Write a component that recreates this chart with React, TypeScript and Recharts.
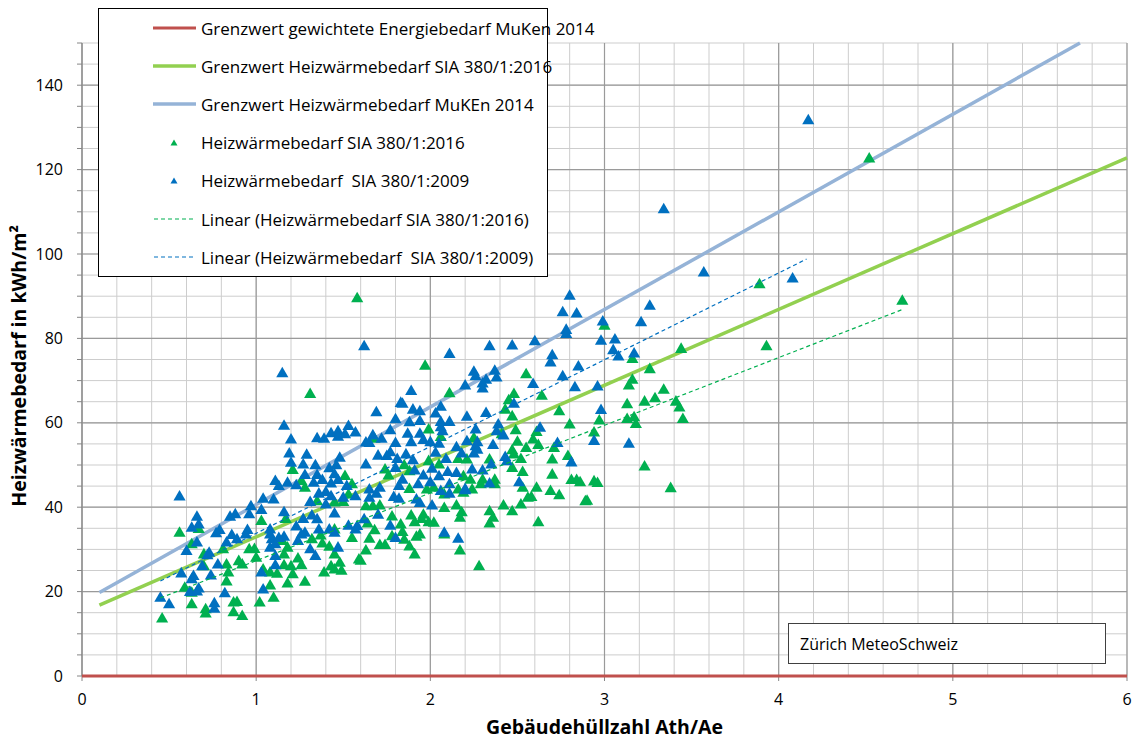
import React from 'react';
import { ScatterChart, Scatter, XAxis, YAxis, ZAxis, CartesianGrid, Label } from 'recharts';

const FONT = "'Open Sans', sans-serif";

const xTicks = [0, 1, 2, 3, 4, 5, 6];
const xMinorTicks = [0, 0.2, 0.4, 0.6, 0.8, 1, 1.2, 1.4, 1.6, 1.8, 2, 2.2, 2.4, 2.6, 2.8, 3, 3.2, 3.4, 3.6, 3.8, 4, 4.2, 4.4, 4.6, 4.8, 5, 5.2, 5.4, 5.6, 5.8, 6];
const yTicks = [0, 5, 10, 15, 20, 25, 30, 35, 40, 45, 50, 55, 60, 65, 70, 75, 80, 85, 90, 95, 100, 105, 110, 115, 120, 125, 130, 135, 140, 145, 150];
const yMajorTicks = [0, 20, 40, 60, 80, 100, 120, 140];
const yLabelTicks = [0, 20, 40, 60, 80, 100, 120, 140];

// limit lines [Ath/Ae, kWh/m2]
const grenzGewichtet: number[][] = [[0, 0], [6, 0]];
const grenzSia2016: number[][] = [[0.1, 16.8], [6, 122.8]];
const grenzMuken2014: number[][] = [[0.1, 19.8], [5.73, 150]];

// trend lines
const linear2016: number[][] = [[0.45, 18.5], [4.72, 87.0]];
const linear2009: number[][] = [[0.45, 22.5], [4.16, 98.8]];

// Heizwärmebedarf SIA 380/1:2016
const hwb2016: number[][] = [
  [1.21, 48.7], [1.26, 46.1], [1.28, 44.5], [1.51, 47.3], [1.55, 45.3], [1.53, 42.9], [1.5, 41.1], [1.35, 41.3],
  [1.45, 41.0], [1.03, 36.6], [1.17, 37.1], [0.56, 33.8], [0.63, 31.1], [0.67, 34.7], [0.81, 29.9], [0.7, 28.7],
  [0.7, 25.9], [0.83, 26.3], [0.9, 27.1], [0.92, 26.3], [0.84, 24.4], [0.83, 22.3], [0.59, 20.8], [0.63, 19.6],
  [0.63, 16.9], [0.71, 15.7], [0.71, 14.7], [0.87, 17.3], [0.89, 17.4], [0.87, 15.0], [0.92, 14.1], [0.46, 13.5],
  [1.02, 17.3], [1.1, 18.4], [0.96, 29.9], [0.99, 30.0], [1.0, 27.9], [1.04, 25.1], [1.08, 24.4], [1.12, 24.1],
  [1.08, 21.3], [1.16, 26.1], [1.2, 25.9], [1.21, 24.0], [1.18, 21.8], [1.28, 22.2], [1.26, 26.1], [1.24, 27.7],
  [1.16, 28.7], [1.18, 30.3], [1.15, 31.9], [1.32, 32.3], [1.37, 33.2], [1.38, 31.3], [1.42, 30.5], [1.45, 28.7],
  [1.39, 24.4], [1.43, 25.9], [1.45, 25.1], [1.48, 26.7], [1.49, 24.8], [1.45, 34.6], [1.55, 32.6], [1.59, 27.5],
  [2.45, 65.2], [2.43, 63.0], [2.47, 61.4], [2.74, 62.6], [2.8, 59.5], [1.99, 58.3], [2.06, 56.5], [2.49, 58.1],
  [2.61, 57.7], [2.59, 55.9], [2.5, 55.4], [2.25, 56.3], [2.62, 54.6], [2.71, 53.9], [2.47, 53.4], [2.55, 53.9],
  [2.48, 52.4], [2.52, 51.3], [2.34, 51.2], [2.7, 51.2], [2.79, 52.0], [1.68, 56.1], [1.99, 50.8], [2.05, 50.0],
  [2.16, 51.3], [2.21, 51.2], [1.74, 48.8], [1.85, 49.8], [1.76, 47.4], [1.88, 48.4], [2.19, 47.2], [2.23, 46.4],
  [2.3, 46.4], [2.37, 46.4], [2.47, 49.2], [2.53, 48.2], [2.7, 47.6], [2.81, 46.3], [2.84, 46.3], [2.86, 45.8],
  [1.88, 44.2], [1.98, 44.1], [2.02, 44.5], [2.08, 42.9], [2.16, 44.1], [2.19, 43.3], [2.24, 44.1], [2.29, 45.3],
  [2.37, 45.3], [2.53, 44.5], [2.61, 44.5], [2.69, 43.7], [2.74, 42.7], [2.56, 42.1], [2.58, 42.3], [2.89, 41.3],
  [1.63, 40.1], [1.67, 40.1], [1.71, 40.3], [2.08, 39.7], [2.15, 40.3], [2.42, 40.3], [2.47, 38.9], [2.52, 40.5],
  [2.34, 38.9], [2.36, 37.4], [2.17, 37.4], [2.18, 38.7], [1.78, 37.7], [1.89, 37.9], [1.96, 38.1], [1.95, 37.1],
  [1.91, 36.3], [1.99, 36.3], [2.02, 36.2], [1.83, 35.8], [1.64, 36.0], [1.68, 34.4], [1.65, 32.4], [1.71, 30.9],
  [1.74, 30.9], [1.78, 33.0], [1.84, 34.0], [1.85, 32.2], [1.88, 30.6], [1.92, 32.9], [1.94, 33.4], [1.91, 28.7],
  [1.63, 29.6], [1.6, 27.2], [2.08, 33.4], [2.17, 29.6], [2.34, 36.0], [2.62, 36.3], [2.28, 25.9],
  [1.58, 89.4], [1.31, 66.7], [1.97, 73.4], [2.11, 66.9],
  [3.0, 82.9], [3.16, 75.0], [3.44, 77.4], [3.26, 72.6], [2.55, 71.4], [3.16, 70.1], [3.14, 68.7], [2.48, 66.7],
  [2.64, 66.3], [3.34, 67.7], [3.23, 64.9], [3.29, 65.7], [3.13, 64.3], [3.41, 64.9], [3.43, 63.5], [3.45, 60.8],
  [3.17, 61.2], [3.13, 60.8], [3.18, 59.6], [2.97, 60.4], [2.94, 57.6], [2.41, 57.2],
  [3.23, 49.5], [2.94, 46.0], [2.96, 45.6], [3.38, 44.4], [2.9, 41.4],
  [4.52, 122.5], [3.89, 92.7], [4.71, 88.8], [3.93, 78.0],
];

// Heizwärmebedarf SIA 380/1:2009
const hwb2009: number[][] = [
  [1.2, 55.9], [1.35, 56.2], [1.39, 56.1], [1.43, 57.4], [1.47, 57.9], [1.47, 56.6], [1.51, 57.2], [1.57, 57.6],
  [1.63, 55.2], [1.19, 52.6], [1.29, 52.3], [1.2, 50.4], [1.27, 50.0], [1.34, 49.8], [1.42, 49.1], [1.46, 49.8],
  [1.48, 51.6], [1.11, 46.1], [1.13, 44.9], [1.18, 45.7], [1.23, 45.1], [1.28, 47.5], [1.33, 45.7], [1.35, 47.5],
  [1.38, 46.3], [1.43, 45.5], [1.47, 46.3], [1.45, 47.7], [1.52, 44.9], [1.57, 42.5], [1.36, 43.1], [1.4, 43.5],
  [1.43, 42.5], [0.56, 42.4], [1.04, 41.9], [1.1, 41.7], [0.97, 40.1], [1.03, 39.2], [0.66, 37.6], [0.85, 37.6],
  [0.88, 38.2], [0.96, 38.2], [0.63, 35.0], [0.67, 35.8], [0.77, 33.7], [0.79, 34.5], [0.86, 33.3], [0.89, 32.3],
  [0.83, 31.5], [0.94, 33.4], [0.95, 34.5], [0.66, 31.5], [0.6, 29.5], [0.73, 29.1], [0.72, 28.5], [0.78, 26.3],
  [0.69, 25.9], [0.57, 24.2], [0.64, 23.6], [0.63, 22.8], [0.74, 23.7], [0.62, 19.8], [0.66, 19.9], [0.67, 20.6],
  [0.82, 19.5], [0.45, 18.4], [0.5, 16.9], [0.76, 17.1], [0.76, 15.8], [1.04, 20.4], [1.08, 34.6], [1.08, 33.4],
  [1.09, 32.3], [1.11, 31.1], [1.13, 32.6], [1.16, 32.9], [1.11, 28.3], [1.08, 30.3], [1.11, 26.1], [1.03, 24.4],
  [1.16, 38.7], [1.23, 35.3], [1.26, 33.4], [1.28, 33.8], [1.24, 31.9], [1.27, 37.1], [1.31, 41.1], [1.32, 37.9],
  [1.35, 37.0], [1.36, 34.6], [1.31, 29.9], [1.34, 28.3], [1.4, 40.5], [1.42, 34.6], [1.45, 33.8], [1.45, 38.4],
  [1.5, 42.1], [1.53, 35.5], [1.57, 34.6], [1.58, 35.4], [1.47, 30.3], [1.53, 59.1],
  [1.84, 64.4], [1.69, 62.4], [1.9, 63.0], [1.94, 62.6], [2.03, 62.1], [2.06, 63.7], [1.8, 60.7], [1.88, 60.0],
  [1.94, 60.3], [2.06, 60.1], [2.11, 60.1], [2.21, 61.3], [2.32, 62.2], [2.39, 59.5], [2.48, 64.4], [1.77, 58.1],
  [1.87, 57.3], [1.94, 57.3], [2.07, 57.9], [2.26, 58.3], [2.38, 57.9], [2.42, 56.9], [2.63, 58.7], [1.67, 56.9],
  [1.72, 56.1], [1.65, 55.1], [1.8, 55.1], [1.89, 55.3], [1.96, 55.8], [2.0, 55.3], [2.05, 54.9], [2.15, 54.1],
  [2.21, 55.5], [2.27, 55.3], [2.26, 54.3], [2.36, 54.6], [1.77, 52.9], [1.75, 52.0], [1.7, 52.1], [1.81, 51.3],
  [1.86, 52.4], [1.9, 51.0], [2.03, 52.8], [2.09, 51.3], [2.18, 52.6], [2.25, 52.6], [2.27, 53.5], [2.43, 51.8],
  [2.44, 50.8], [2.81, 50.5], [2.73, 55.1], [1.63, 50.0], [1.8, 49.2], [1.91, 48.6], [1.84, 46.4], [2.01, 49.0],
  [1.96, 47.4], [2.1, 48.2], [2.15, 48.0], [2.24, 48.8], [2.3, 48.6], [2.35, 50.0], [2.05, 47.2], [2.0, 45.8],
  [2.11, 45.3], [1.93, 45.3], [1.82, 44.9], [2.2, 44.2], [2.34, 45.5], [2.51, 45.8], [1.65, 44.1], [1.71, 44.5],
  [1.69, 43.1], [1.65, 42.1], [1.79, 42.3], [1.82, 41.9], [1.92, 41.7], [1.94, 40.9], [2.01, 40.3], [2.06, 43.7],
  [2.11, 43.1], [2.2, 43.9], [1.62, 37.0], [1.7, 38.1], [1.77, 35.5], [1.8, 32.6], [2.08, 33.8], [2.16, 32.4],
  [1.62, 78.0], [1.15, 71.6], [2.11, 76.2], [2.34, 78.0], [2.25, 72.0], [2.26, 70.9], [2.32, 70.1], [2.37, 72.2],
  [2.38, 70.6], [2.3, 69.2], [2.3, 68.0], [2.2, 68.7], [1.89, 67.4], [1.83, 64.6], [1.16, 59.2], [2.06, 58.8],
  [3.57, 95.5], [2.8, 90.0], [2.76, 86.1], [2.84, 85.8], [3.26, 87.6], [2.99, 83.9], [3.21, 83.7], [2.78, 81.9],
  [2.78, 80.9], [2.47, 78.2], [2.6, 79.2], [2.98, 79.3], [3.06, 79.6], [3.05, 77.1], [3.08, 75.6], [3.17, 76.3],
  [2.7, 75.9], [2.69, 74.2], [2.85, 73.2], [2.76, 70.9], [2.59, 69.1], [2.83, 68.3], [2.96, 68.5], [2.98, 62.9],
  [2.94, 55.6], [3.14, 54.9], [4.17, 131.6], [3.34, 110.5], [4.08, 94.1],
];

const toPoints = (rows: number[][]) => rows.map(([x, y]) => ({ x, y }));

const legendRows = [
  { label: 'Grenzwert gewichtete Energiebedarf MuKen 2014', kind: 'line', color: '#C0504D', width: 3 },
  { label: 'Grenzwert Heizwärmebedarf SIA 380/1:2016', kind: 'line', color: '#92D050', width: 3.5 },
  { label: 'Grenzwert Heizwärmebedarf MuKEn 2014', kind: 'line', color: '#95B3D7', width: 3.5 },
  { label: 'Heizwärmebedarf SIA 380/1:2016', kind: 'marker', color: '#00B050', width: 0 },
  { label: 'Heizwärmebedarf  SIA 380/1:2009', kind: 'marker', color: '#0070C0', width: 0 },
  { label: 'Linear (Heizwärmebedarf SIA 380/1:2016)', kind: 'dash', color: '#00B050', width: 1.2 },
  { label: 'Linear (Heizwärmebedarf  SIA 380/1:2009)', kind: 'dash', color: '#0070C0', width: 1.2 },
];

const noShape = () => <g />;

// map tick values through the axis scale the grid hands us
const scaleOf = (axis: any) => (v: number): number => {
  const s = axis && axis.scale;
  if (!s) return NaN;
  if (typeof s === 'function') return s(v);
  if (typeof s.map === 'function') return s.map(v);
  return NaN;
};
const gridX = (values: number[]) => ({ xAxis }: any) => values.map(scaleOf(xAxis)).filter((p) => Number.isFinite(p));
const gridY = (values: number[]) => ({ yAxis }: any) => values.map(scaleOf(yAxis)).filter((p) => Number.isFinite(p));

function LegendBox() {
  return (
    <div
      style={{
        position: 'absolute', left: 98, top: 8, width: 450, height: 269, boxSizing: 'border-box',
        border: '1.5px solid #000', background: '#fff', fontFamily: FONT, fontSize: 17,
      }}
    >
      {legendRows.map((r, i) => (
        <div key={i} style={{ position: 'absolute', left: 54, top: 8 + i * 38.2, height: 22, display: 'flex', alignItems: 'center', whiteSpace: 'pre' }}>
          <svg width={44} height={22} style={{ marginRight: 4 }}>
            {r.kind === 'line' && <line x1={0} x2={43} y1={11} y2={11} stroke={r.color} strokeWidth={r.width} />}
            {r.kind === 'dash' && <line x1={1} x2={42} y1={11} y2={11} stroke={r.color} strokeWidth={r.width} strokeDasharray="4 3" />}
            {r.kind === 'marker' && <polygon points="21,7.5 24.5,13.5 17.5,13.5" fill={r.color} />}
          </svg>
          <span>{r.label}</span>
        </div>
      ))}
    </div>
  );
}

export default function App() {
  return (
    <div style={{ position: 'absolute', left: 0, top: 0, width: 1137, height: 740, background: '#fff', fontFamily: FONT }}>
      <ScatterChart width={1137} height={740} margin={{ top: 43, right: 10, bottom: 0, left: 0 }}>
        <CartesianGrid
          stroke="#CDCDCD" strokeWidth={1}
          verticalCoordinatesGenerator={gridX(xMinorTicks)}
          horizontalCoordinatesGenerator={gridY(yTicks)}
        />
        <CartesianGrid
          stroke="#9A9A9A" strokeWidth={1.2}
          verticalCoordinatesGenerator={gridX(xTicks)}
          horizontalCoordinatesGenerator={gridY(yMajorTicks)}
        />
        <XAxis
          type="number" dataKey="x" domain={[0, 6]} ticks={xTicks} height={64}
          stroke="#868686" tickSize={5} tickMargin={13}
          tick={{ fill: '#000', fontSize: 16, fontFamily: FONT }}
        >
          <Label
            content={() => (
              <text x={604.5} y={734} textAnchor="middle" fontFamily={FONT} fontSize={19.5} fontWeight="bold" fill="#000">
                Gebäudehüllzahl Ath/Ae
              </text>
            )}
          />
        </XAxis>
        <YAxis
          type="number" dataKey="y" domain={[0, 150]} ticks={yTicks} width={82}
          stroke="#868686" tickSize={5} tickMargin={14} interval={0}
          tick={{ fill: '#000', fontSize: 16, fontFamily: FONT }}
          tickFormatter={(v: number) => (yLabelTicks.includes(v) ? String(v) : '')}
        >
          <Label
            content={() => (
              <text
                x={18} y={366} transform="rotate(-90 18 366)" textAnchor="middle" dominantBaseline="central"
                fontFamily={FONT} fontSize={19.5} fontWeight="bold" fill="#000"
              >
                Heizwärmebedarf in kWh/m²
              </text>
            )}
          />
        </YAxis>
        <ZAxis range={[22, 22]} />
        <Scatter data={toPoints(grenzGewichtet)} shape={noShape} line={{ stroke: '#C0504D', strokeWidth: 3 }} isAnimationActive={false} />
        <Scatter data={toPoints(grenzSia2016)} shape={noShape} line={{ stroke: '#92D050', strokeWidth: 3.5 }} isAnimationActive={false} />
        <Scatter data={toPoints(grenzMuken2014)} shape={noShape} line={{ stroke: '#95B3D7', strokeWidth: 3.5 }} isAnimationActive={false} />
        <Scatter data={toPoints(hwb2016)} shape="triangle" fill="#00B050" isAnimationActive={false} />
        <Scatter data={toPoints(hwb2009)} shape="triangle" fill="#0070C0" isAnimationActive={false} />
        <Scatter data={toPoints(linear2016)} shape={noShape} line={{ stroke: '#00B050', strokeWidth: 1.2, strokeDasharray: '4 3' }} isAnimationActive={false} />
        <Scatter data={toPoints(linear2009)} shape={noShape} line={{ stroke: '#0070C0', strokeWidth: 1.2, strokeDasharray: '4 3' }} isAnimationActive={false} />
      </ScatterChart>
      <LegendBox />
      <div
        style={{
          position: 'absolute', left: 788, top: 623, width: 318, height: 41, boxSizing: 'border-box',
          border: '1px solid #404040', background: '#fff', fontSize: 16, display: 'flex', alignItems: 'center', paddingLeft: 11,
        }}
      >
        Zürich MeteoSchweiz
      </div>
    </div>
  );
}
